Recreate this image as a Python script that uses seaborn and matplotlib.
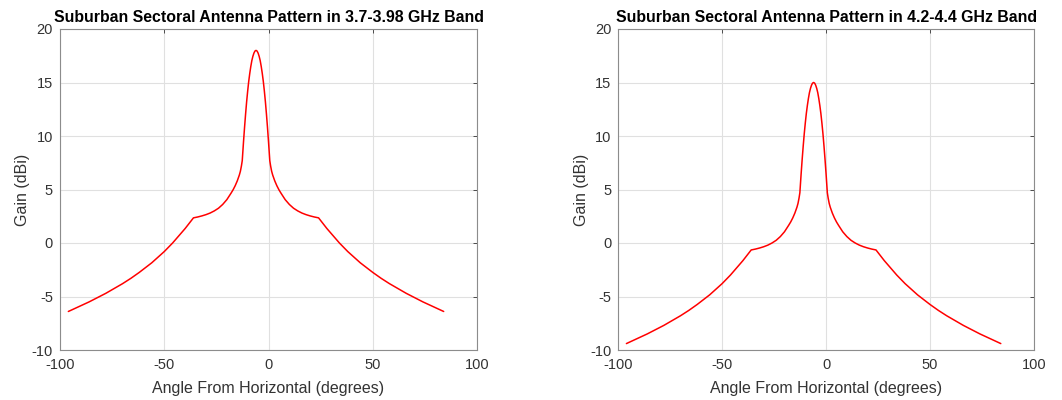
import matplotlib
matplotlib.use("Agg")
import matplotlib.pyplot as plt
import seaborn as sns

# angle from horizontal (degrees), shared by both bands
angles = [-96, -91, -86, -82, -78, -74, -70, -66, -62, -59, -56, -54, -52, -50,
          -48, -46, -44, -42, -40, -38, -36, -34, -32, -30, -28, -26, -24, -22,
          -20, -18, -17, -16, -15, -14, -13.5, -13, -12.6, -12, -11.5, -11,
          -10.5, -10, -9.5, -9, -8.5, -8, -7.5, -7, -6.5, -6,
          -5.5, -5, -4.5, -4, -3.5, -3, -2.5, -2, -1.5, -1, -0.5, 0, 0.6, 1,
          1.5, 2, 3, 4, 5, 6, 8, 10, 12, 14, 16, 18, 20, 22, 24, 26, 28, 30,
          32, 34, 36, 38, 40, 42, 44, 47, 50, 54, 58, 62, 66, 70, 74, 79, 84]

# gain (dBi)
gain_c_band = [-6.4, -5.95, -5.5, -5.1, -4.7, -4.25, -3.8, -3.3, -2.75, -2.3,
               -1.85, -1.5, -1.15, -0.8, -0.4, 0.0, 0.45, 0.9, 1.35, 1.85, 2.35,
               2.43, 2.53, 2.65, 2.8, 3.0, 3.25, 3.6, 4.05, 4.65, 4.97, 5.35, 5.8,
               6.35, 6.7, 7.2, 7.7, 9.45, 10.8, 12.05, 13.2, 14.2, 15.1, 15.85,
               16.5, 17.05, 17.45, 17.75, 17.94, 18.0,
               17.94, 17.75, 17.45, 17.05, 16.5, 15.85, 15.1, 14.2, 13.2, 12.05,
               10.8, 9.45, 7.7, 7.2, 6.7, 6.35, 5.8, 5.35, 4.97, 4.65, 4.05, 3.6,
               3.25, 3.0, 2.8, 2.65, 2.53, 2.43, 2.35, 1.85, 1.35, 0.9, 0.45, 0.0,
               -0.4, -0.8, -1.15, -1.5, -1.85, -2.3, -2.75, -3.3, -3.8, -4.25,
               -4.7, -5.1, -5.5, -5.95, -6.4]

# gain (dBi)
gain_alt_band = [-9.4, -8.95, -8.5, -8.1, -7.7, -7.25, -6.8, -6.3, -5.75, -5.3,
                 -4.85, -4.5, -4.15, -3.8, -3.4, -3.0, -2.55, -2.1, -1.65, -1.15,
                 -0.65, -0.57, -0.47, -0.35, -0.2, 0.0, 0.25, 0.6, 1.05, 1.65, 1.97,
                 2.35, 2.8, 3.35, 3.7, 4.2, 4.7, 6.45, 7.8, 9.05, 10.2, 11.2, 12.1,
                 12.85, 13.5, 14.05, 14.45, 14.75, 14.94, 15.0,
                 14.94, 14.75, 14.45, 14.05, 13.5, 12.85, 12.1, 11.2, 10.2, 9.05,
                 7.8, 6.45, 4.7, 4.2, 3.7, 3.35, 2.8, 2.35, 1.97, 1.65, 1.05, 0.6,
                 0.25, 0.0, -0.2, -0.35, -0.47, -0.57, -0.65, -1.15, -1.65, -2.1,
                 -2.55, -3.0, -3.4, -3.8, -4.15, -4.5, -4.85, -5.3, -5.75, -6.3,
                 -6.8, -7.25, -7.7, -8.1, -8.5, -8.95, -9.4]

titles = ["Suburban Sectoral Antenna Pattern in 3.7-3.98 GHz Band",
          "Suburban Sectoral Antenna Pattern in 4.2-4.4 GHz Band"]
x_ticks = [-100, -50, 0, 50, 100]
y_ticks = [-10, -5, 0, 5, 10, 15, 20]

sns.set_theme(style="white")
plt.rcParams["font.family"] = ["Liberation Sans", "DejaVu Sans"]
plt.rcParams["axes.unicode_minus"] = False

fig = plt.figure(figsize=(10.62, 4.0), dpi=100)
positions = [[0.0565, 0.125, 0.3927, 0.8025], [0.582, 0.125, 0.3917, 0.8025]]
axis_grey = "#333333"

for pos, gain, title in zip(positions, [gain_c_band, gain_alt_band], titles):
    ax = fig.add_axes(pos)
    sns.lineplot(x=angles, y=gain, color="#ff0000", linewidth=1.1, ax=ax)
    ax.set_xlim(-100, 100)
    ax.set_ylim(-10, 20)
    ax.set_xticks(x_ticks)
    ax.set_yticks(y_ticks)
    ax.grid(True, color="#e0e0e0", linewidth=0.8)
    ax.tick_params(direction="in", length=3, width=0.6, top=True, right=True,
                   labelsize=10.5, colors=axis_grey)
    ax.tick_params(axis="x", pad=6)
    ax.tick_params(axis="y", pad=5)
    for spine in ax.spines.values():
        spine.set_color("#8c8c8c")
        spine.set_linewidth(0.8)
    ax.set_title(title, fontsize=11.4, fontweight="bold", color="black", pad=5)
    ax.set_xlabel("Angle From Horizontal (degrees)", fontsize=11.5, color=axis_grey,
                  labelpad=6)
    ax.set_ylabel("Gain (dBi)", fontsize=11.5, color=axis_grey, labelpad=1)

fig.savefig("out.png", dpi=100)
